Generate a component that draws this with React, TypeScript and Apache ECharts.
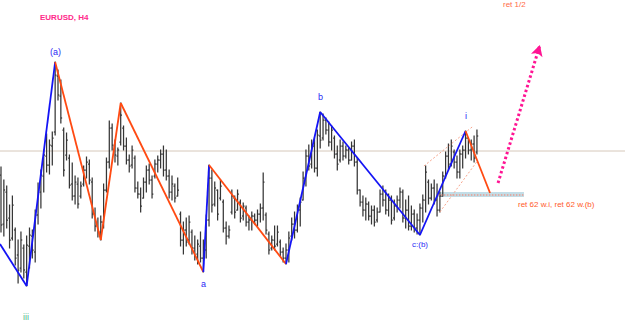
import React, { useEffect, useRef } from "react";
import * as echarts from "echarts";

// EURUSD H4 bars (index, open, high, low, close)
const opens = [
  1.3425,1.3376,1.3408,1.3382,1.3362,1.3370,1.3345,1.3332,1.3352,1.3328,
  1.3354,1.3364,1.3348,1.3385,1.3408,1.3424,1.3444,1.3435,1.3454,1.3468,
  1.3524,1.3504,1.3470,1.3445,1.3442,1.3416,1.3404,1.3416,1.3404,1.3416,
  1.3430,1.3436,1.3418,1.3386,1.3374,1.3368,1.3378,1.3410,1.3438,1.3472,
  1.3454,1.3444,1.3458,1.3472,1.3454,1.3440,1.3435,1.3442,1.3412,1.3406,
  1.3402,1.3418,1.3430,1.3420,1.3424,1.3436,1.3440,1.3446,1.3430,1.3424,
  1.3408,1.3414,1.3404,1.3386,1.3360,1.3370,1.3360,1.3368,1.3352,1.3346,
  1.3354,1.3342,1.3350,1.3380,1.3422,1.3396,1.3410,1.3402,1.3398,1.3372,
  1.3364,1.3388,1.3402,1.3390,1.3398,1.3384,1.3392,1.3378,1.3380,1.3384,
  1.3380,1.3386,1.3392,1.3385,1.3366,1.3352,1.3360,1.3356,1.3358,1.3348,
  1.3342,1.3350,1.3364,1.3376,1.3370,1.3390,1.3400,1.3422,1.3444,1.3436,
  1.3454,1.3432,1.3464,1.3462,1.3480,1.3470,1.3458,1.3462,1.3446,1.3440,
  1.3454,1.3444,1.3450,1.3440,1.3454,1.3438,1.3410,1.3398,1.3390,1.3396,
  1.3384,1.3390,1.3380,1.3388,1.3406,1.3400,1.3390,1.3400,1.3382,1.3394,
  1.3400,1.3408,1.3382,1.3390,1.3374,1.3386,1.3372,1.3380,1.3392,1.3400,
  1.3418,1.3402,1.3412,1.3400,1.3390,1.3404,1.3424,1.3444,1.3436,1.3448,
  1.3438,1.3428,1.3446,1.3450,1.3462,1.3450,1.3456,1.3448,
];
const highs = [
  1.3433,1.3420,1.3414,1.3395,1.3404,1.3372,1.3360,1.3368,1.3355,1.3364,
  1.3372,1.3370,1.3390,1.3417,1.3430,1.3450,1.3466,1.3460,1.3468,1.3538,
  1.3530,1.3520,1.3472,1.3467,1.3445,1.3437,1.3424,1.3422,1.3418,1.3434,
  1.3443,1.3440,1.3422,1.3392,1.3382,1.3384,1.3416,1.3442,1.3479,1.3476,
  1.3460,1.3452,1.3497,1.3474,1.3462,1.3445,1.3454,1.3444,1.3418,1.3412,
  1.3422,1.3434,1.3436,1.3424,1.3440,1.3444,1.3450,1.3454,1.3450,1.3430,
  1.3424,1.3416,1.3422,1.3388,1.3378,1.3382,1.3384,1.3370,1.3364,1.3360,
  1.3368,1.3360,1.3385,1.3435,1.3430,1.3418,1.3410,1.3420,1.3400,1.3378,
  1.3374,1.3410,1.3404,1.3410,1.3400,1.3397,1.3394,1.3384,1.3388,1.3386,
  1.3390,1.3396,1.3427,1.3387,1.3368,1.3364,1.3374,1.3374,1.3360,1.3352,
  1.3356,1.3368,1.3382,1.3388,1.3395,1.3402,1.3428,1.3450,1.3455,1.3460,
  1.3462,1.3470,1.3488,1.3486,1.3482,1.3478,1.3474,1.3464,1.3454,1.3460,
  1.3458,1.3454,1.3452,1.3458,1.3460,1.3442,1.3410,1.3404,1.3402,1.3398,
  1.3394,1.3394,1.3392,1.3410,1.3414,1.3410,1.3406,1.3404,1.3400,1.3404,
  1.3412,1.3410,1.3400,1.3404,1.3394,1.3390,1.3386,1.3396,1.3405,1.3434,
  1.3420,1.3416,1.3420,1.3416,1.3408,1.3428,1.3448,1.3456,1.3460,1.3450,
  1.3444,1.3450,1.3454,1.3469,1.3462,1.3460,1.3464,1.3470,
];
const lows = [
  1.3368,1.3364,1.3372,1.3352,1.3360,1.3335,1.3317,1.3328,1.3322,1.3314,
  1.3332,1.3342,1.3338,1.3376,1.3392,1.3408,1.3428,1.3426,1.3435,1.3465,
  1.3500,1.3477,1.3424,1.3440,1.3412,1.3400,1.3396,1.3392,1.3402,1.3414,
  1.3422,1.3416,1.3382,1.3369,1.3363,1.3360,1.3372,1.3408,1.3432,1.3450,
  1.3438,1.3435,1.3455,1.3450,1.3436,1.3428,1.3432,1.3408,1.3402,1.3388,
  1.3402,1.3408,1.3416,1.3402,1.3422,1.3428,1.3432,1.3424,1.3420,1.3402,
  1.3400,1.3398,1.3404,1.3354,1.3346,1.3354,1.3356,1.3346,1.3340,1.3336,
  1.3338,1.3328,1.3342,1.3374,1.3388,1.3394,1.3380,1.3400,1.3368,1.3356,
  1.3362,1.3386,1.3382,1.3390,1.3378,1.3380,1.3374,1.3370,1.3370,1.3376,
  1.3374,1.3378,1.3380,1.3366,1.3346,1.3350,1.3350,1.3354,1.3344,1.3338,
  1.3336,1.3338,1.3360,1.3362,1.3368,1.3374,1.3400,1.3414,1.3430,1.3432,
  1.3428,1.3424,1.3452,1.3460,1.3466,1.3454,1.3450,1.3442,1.3430,1.3438,
  1.3440,1.3442,1.3436,1.3440,1.3434,1.3406,1.3394,1.3384,1.3380,1.3380,
  1.3376,1.3374,1.3378,1.3388,1.3394,1.3386,1.3384,1.3376,1.3380,1.3388,
  1.3392,1.3378,1.3372,1.3370,1.3370,1.3368,1.3366,1.3365,1.3378,1.3388,
  1.3396,1.3400,1.3396,1.3384,1.3388,1.3404,1.3422,1.3430,1.3434,1.3432,
  1.3422,1.3422,1.3432,1.3442,1.3446,1.3440,1.3438,1.3446,
];
const closes = [
  1.3375,1.3410,1.3380,1.3360,1.3395,1.3342,1.3330,1.3360,1.3330,1.3355,
  1.3365,1.3350,1.3385,1.3410,1.3425,1.3445,1.3435,1.3455,1.3462,1.3525,
  1.3505,1.3482,1.3430,1.3460,1.3415,1.3404,1.3418,1.3396,1.3414,1.3430,
  1.3438,1.3420,1.3386,1.3374,1.3368,1.3378,1.3410,1.3438,1.3472,1.3455,
  1.3445,1.3450,1.3485,1.3454,1.3440,1.3434,1.3450,1.3412,1.3406,1.3394,
  1.3418,1.3430,1.3420,1.3406,1.3436,1.3440,1.3446,1.3430,1.3424,1.3408,
  1.3416,1.3402,1.3410,1.3360,1.3370,1.3358,1.3378,1.3352,1.3344,1.3356,
  1.3342,1.3352,1.3380,1.3422,1.3395,1.3412,1.3386,1.3414,1.3372,1.3364,
  1.3370,1.3404,1.3388,1.3406,1.3382,1.3394,1.3378,1.3380,1.3384,1.3380,
  1.3386,1.3392,1.3418,1.3370,1.3350,1.3360,1.3354,1.3368,1.3348,1.3342,
  1.3350,1.3362,1.3376,1.3370,1.3390,1.3398,1.3422,1.3444,1.3434,1.3454,
  1.3432,1.3465,1.3460,1.3480,1.3470,1.3458,1.3470,1.3446,1.3436,1.3454,
  1.3444,1.3450,1.3440,1.3454,1.3438,1.3410,1.3398,1.3390,1.3396,1.3384,
  1.3390,1.3378,1.3388,1.3406,1.3400,1.3390,1.3400,1.3380,1.3394,1.3400,
  1.3408,1.3382,1.3390,1.3374,1.3386,1.3372,1.3380,1.3392,1.3400,1.3428,
  1.3402,1.3412,1.3400,1.3390,1.3404,1.3424,1.3444,1.3436,1.3454,1.3438,
  1.3428,1.3446,1.3450,1.3462,1.3450,1.3456,1.3442,1.3464,
];

// Elliott wave pivots (bar index, price) and the colour kind of each segment
const waveX = [-0.35, 9, 19, 35, 42, 71, 73, 100, 112, 147, 163, 171.6];
const wavePrice = [1.3356, 1.3314, 1.3538, 1.336, 1.3497, 1.3328, 1.3435, 1.3336, 1.3488, 1.3365, 1.3469, 1.3407];
const waveKind = ["blue", "blue", "orange", "orange", "orange", "blue", "orange", "blue", "blue", "blue", "orange"];

const xRange = [-0.35, 218.95];
const priceRange = [1.3278, 1.36];
const pivotLevel = 1.3449;
const zoneX = [153.3, 183.5];
const zonePrice = [1.3403, 1.3408];
const arrowX = [174.4, 189.1];
const arrowPrice = [1.3417, 1.3555];
const channelUpperX = [148.4, 165.3];
const channelUpperPrice = [1.3434, 1.3473];
const channelLowerX = [154.0, 167.4];
const channelLowerPrice = [1.3388, 1.344];

const FONT = "'Liberation Sans', Arial, sans-serif";

export default function App() {
  const ref = useRef<HTMLDivElement>(null);
  useEffect(() => {
    if (!ref.current) return;
    const chart = echarts.init(ref.current, undefined, { renderer: "svg" });
    const bars = highs.map((h, i) => [i, opens[i], h, lows[i], closes[i]]);
    const colors: Record<string, string> = { blue: "#1414f5", orange: "#ff4a12" };

    const waveSeries = waveKind.map((k, s) => ({
      type: "line",
      data: [
        [waveX[s], wavePrice[s]],
        [waveX[s + 1], wavePrice[s + 1]],
      ],
      showSymbol: false,
      silent: true,
      z: 5,
      lineStyle: { color: colors[k], width: 1.8 },
    }));

    const barColor = "#363636";
    const option: any = {
      animation: false,
      backgroundColor: "#ffffff",
      grid: { left: 0, right: 0, top: 0, bottom: 0 },
      xAxis: { type: "value", min: xRange[0], max: xRange[1], show: false },
      yAxis: { type: "value", min: priceRange[0], max: priceRange[1], show: false },
      series: [
        {
          type: "line",
          data: [
            [xRange[0], pivotLevel],
            [xRange[1], pivotLevel],
          ],
          showSymbol: false,
          silent: true,
          z: 1,
          lineStyle: { color: "#d6c8ba", width: 1 },
        },
        {
          type: "custom",
          z: 3,
          silent: true,
          data: bars,
          encode: { x: 0, y: [1, 2, 3, 4] },
          renderItem: (params: any, api: any) => {
            const x = api.value(0);
            const o = api.coord([x, api.value(1)]);
            const h = api.coord([x, api.value(2)]);
            const l = api.coord([x, api.value(3)]);
            const c = api.coord([x, api.value(4)]);
            const st = { stroke: barColor, lineWidth: 1.25 };
            return {
              type: "group",
              children: [
                { type: "line", shape: { x1: h[0], y1: h[1] - 0.5, x2: l[0], y2: l[1] + 0.5 }, style: st },
                { type: "line", shape: { x1: o[0] - 1.3, y1: o[1], x2: o[0], y2: o[1] }, style: st },
                { type: "line", shape: { x1: c[0], y1: c[1], x2: c[0] + 1.3, y2: c[1] }, style: st },
              ],
            };
          },
        },
        {
          type: "line",
          data: [
            [zoneX[0], zonePrice[0]],
            [zoneX[1], zonePrice[1]],
          ],
          showSymbol: false,
          silent: true,
          lineStyle: { opacity: 0 },
          z: 4,
          markArea: {
            silent: true,
            itemStyle: { color: "#c2dde7" },
            data: [[{ coord: [zoneX[0], zonePrice[0]] }, { coord: [zoneX[1], zonePrice[1]] }]],
          },
          markLine: {
            silent: true,
            symbol: "none",
            label: { show: false },
            data: [
              [
                { coord: [zoneX[0], (zonePrice[0] + zonePrice[1]) / 2], lineStyle: { color: "#e79c8f", width: 1.5, type: [1.5, 1.5] } },
                { coord: [zoneX[1], (zonePrice[0] + zonePrice[1]) / 2] },
              ],
              [
                { coord: [channelUpperX[0], channelUpperPrice[0]], lineStyle: { color: "#f8a58c", width: 1, type: [2, 2] } },
                { coord: [channelUpperX[1], channelUpperPrice[1]] },
              ],
              [
                { coord: [channelLowerX[0], channelLowerPrice[0]], lineStyle: { color: "#f8a58c", width: 1, type: [2, 2] } },
                { coord: [channelLowerX[1], channelLowerPrice[1]] },
              ],
            ],
          },
        },
        ...waveSeries,
        {
          type: "line",
          data: [
            [arrowX[0], arrowPrice[0]],
            [arrowX[1], arrowPrice[1]],
          ],
          showSymbol: false,
          silent: true,
          lineStyle: { opacity: 0 },
          z: 6,
          markLine: {
            silent: true,
            symbol: ["none", "arrow"],
            symbolSize: [9, 11],
            label: { show: false },
            lineStyle: { color: "#ff1493", width: 3, type: [2.5, 2.5] },
            itemStyle: { color: "#ff1493" },
            data: [[{ coord: [arrowX[0], arrowPrice[0]] }, { coord: [arrowX[1], arrowPrice[1]] }]],
          },
        },
      ],
      graphic: [
        { type: "text", x: 40, y: 13, style: { text: "EURUSD, H4", fill: "#ff2a8a", font: `bold 8px ${FONT}`, verticalAlign: "top" } },
        { type: "text", x: 50, y: 47, style: { text: "(a)", fill: "#2a2af5", font: `9px ${FONT}`, verticalAlign: "top" } },
        { type: "text", x: 318, y: 92, style: { text: "b", fill: "#2a2af5", font: `9px ${FONT}`, verticalAlign: "top" } },
        { type: "text", x: 201, y: 279, style: { text: "a", fill: "#2a2af5", font: `9px ${FONT}`, verticalAlign: "top" } },
        { type: "text", x: 412, y: 240, style: { text: "c:(b)", fill: "#2a2af5", font: `8px ${FONT}`, verticalAlign: "top" } },
        { type: "text", x: 465, y: 111, style: { text: "i", fill: "#2a2af5", font: `9px ${FONT}`, verticalAlign: "top" } },
        { type: "text", x: 23, y: 312, style: { text: "iii", fill: "#52b890", font: `9px ${FONT}`, verticalAlign: "top" } },
        { type: "text", x: 518, y: 200, style: { text: "ret 62 w.i, ret 62 w.(b)", fill: "#ff5a2a", font: `8px ${FONT}`, verticalAlign: "top" } },
        { type: "text", x: 503, y: 0, style: { text: "ret 1/2", fill: "#ff6a48", font: `8px ${FONT}`, verticalAlign: "top" } },
      ],
    };
    chart.setOption(option);
    return () => chart.dispose();
  }, []);
  return <div ref={ref} style={{ position: "fixed", left: 0, top: 0, width: 625, height: 322 }} />;
}
